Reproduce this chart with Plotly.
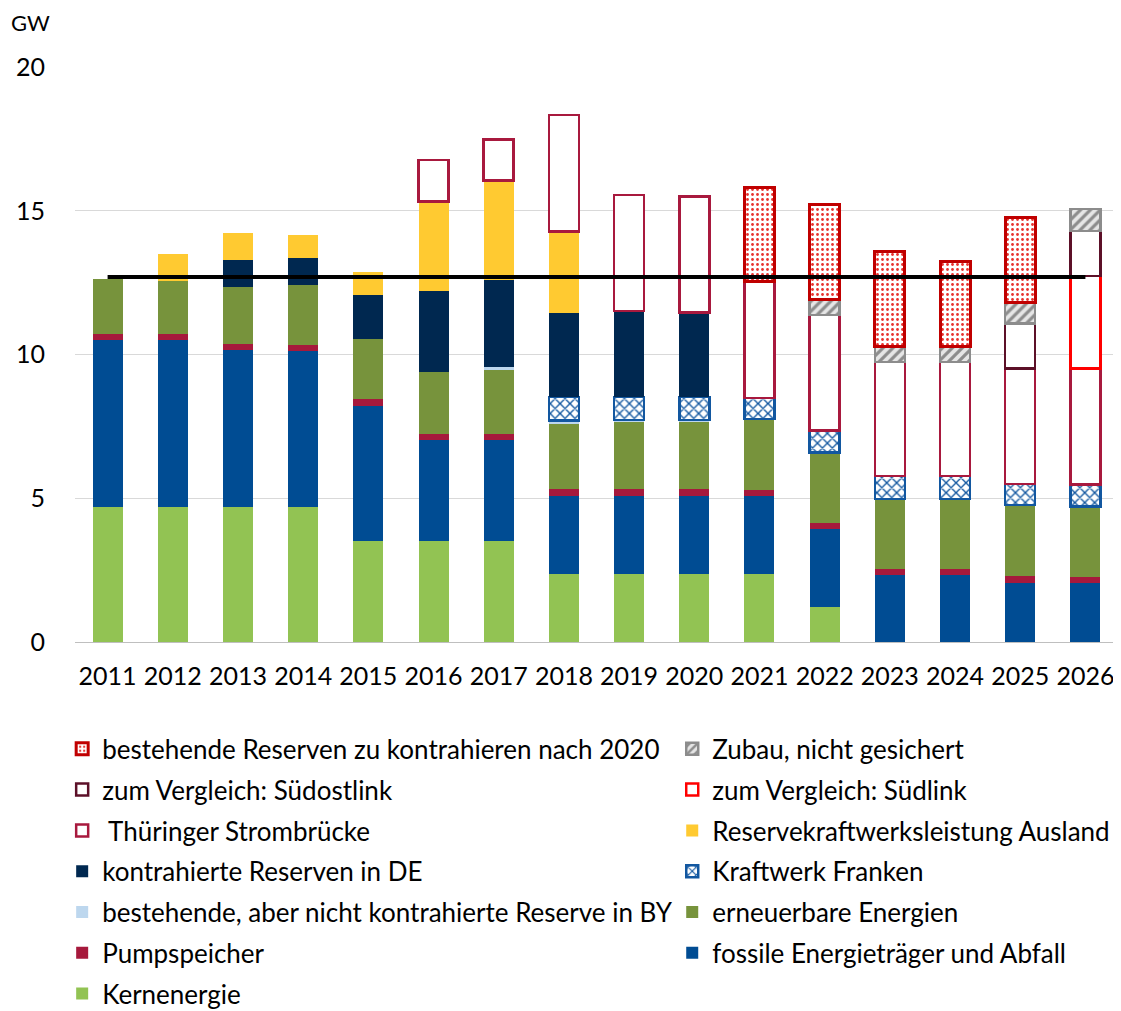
import plotly.graph_objects as go

years = [str(y) for y in range(2011, 2027)]

kern = [4.7, 4.7, 4.7, 4.7, 3.53, 3.53, 3.53, 2.37, 2.37, 2.37, 2.37, 1.22, 0, 0, 0, 0]
fossil = [5.8, 5.8, 5.45, 5.42, 4.69, 3.49, 3.49, 2.7, 2.71, 2.71, 2.72, 2.71, 2.33, 2.33, 2.06, 2.06]
pump = [0.22, 0.22, 0.22, 0.22, 0.23, 0.23, 0.23, 0.24, 0.23, 0.23, 0.21, 0.21, 0.21, 0.21, 0.24, 0.21]
erneuerbar = [1.9, 1.84, 1.99, 2.08, 2.09, 2.15, 2.21, 2.29, 2.35, 2.35, 2.46, 2.45, 2.44, 2.44, 2.47, 2.45]
reserve_by = [0, 0, 0, 0, 0, 0, 0.12, 0.1, 0.06, 0.06, 0, 0, 0, 0, 0, 0]
franken = [0, 0, 0, 0, 0, 0, 0, 0.82, 0.8, 0.8, 0.73, 0.77, 0.8, 0.8, 0.72, 0.75]
kontrahiert_de = [0, 0, 0.93, 0.93, 1.54, 2.8, 3.02, 2.94, 3.0, 2.94, 0, 0, 0, 0, 0, 0]
ausland = [0, 0.94, 0.93, 0.81, 0.8, 3.13, 3.45, 2.82, 0, 0, 0, 0, 0, 0, 0, 0]
thueringer = [0, 0, 0, 0, 0, 1.43, 1.43, 4.05, 4.03, 4.03, 4.04, 4.01, 3.96, 3.96, 4.02, 4.04]
suedlink = [0, 0, 0, 0, 0, 0, 0, 0, 0, 0, 0, 0, 0, 0, 0, 3.22]
suedostlink = [0, 0, 0, 0, 0, 0, 0, 0, 0, 0, 0, 0, 0, 0, 1.57, 1.57]
zubau = [0, 0, 0, 0, 0, 0, 0, 0, 0, 0, 0, 0.55, 0.53, 0.53, 0.72, 0.76]
bestehend_2020 = [0, 0, 0, 0, 0, 0, 0, 0, 0, 0, 3.28, 3.31, 3.33, 2.95, 2.97, 0]

referenz = [12.7] * len(years)

FONT = "Lato"


def nz(vals):
    return [v if v else None for v in vals]


fig = go.Figure()

# (name, values, fill, line colour, line width, pattern, legend, rank)
series = [
    ("Kernenergie", kern, "#92C353", None, 0, None, "legend", 7),
    ("fossile Energieträger und Abfall", fossil, "#004C93", None, 0, None, "legend2", 6),
    ("Pumpspeicher", pump, "#A6193C", None, 0, None, "legend", 6),
    ("erneuerbare Energien", erneuerbar, "#77933C", None, 0, None, "legend2", 5),
    ("bestehende, aber nicht kontrahierte Reserve in BY", reserve_by, "#BDD7EE", None, 0, None, "legend", 5),
    ("Kraftwerk Franken", franken, "#FFFFFF", "#1257A0", 2.5,
     dict(shape="x", fgcolor="#1257A0", bgcolor="#FFFFFF", size=7, solidity=0.35), "legend2", 4),
    ("kontrahierte Reserven in DE", kontrahiert_de, "#002850", None, 0, None, "legend", 4),
    ("Reservekraftwerksleistung Ausland", ausland, "#FFCA31", None, 0, None, "legend2", 3),
    ("\u00a0Thüringer Strombrücke", thueringer, "#FFFFFF", "#A8193E", 2.5, None, "legend", 3),
    ("zum Vergleich: Südlink", suedlink, "#FFFFFF", "#FF0000", 2.5, None, "legend2", 2),
    ("zum Vergleich: Südostlink", suedostlink, "#FFFFFF", "#5C1028", 2.5, None, "legend", 2),
    ("Zubau, nicht gesichert", zubau, "#FFFFFF", "#8C8C8C", 2.5,
     dict(shape="/", fgcolor="#8C8C8C", bgcolor="#E6E6E6", size=7, solidity=0.45), "legend2", 1),
    ("bestehende Reserven zu kontrahieren nach 2020", bestehend_2020, "#FFFFFF", "#C00000", 3,
     dict(shape=".", fgcolor="#E8332F", bgcolor="#FFFFFF", size=5, solidity=0.25), "legend", 1),
]

for i, (name, vals, fill, lc, lw, pat, leg, rank) in enumerate(series):
    marker = dict(color=fill, line=dict(color=lc or fill, width=lw))
    if pat:
        marker["pattern"] = dict(fillmode="replace", **pat)
    fig.add_trace(go.Bar(
        x=years, y=nz(vals), name=name, marker=marker,
        legend=leg, legendrank=rank, legendgroup=f"g{i}",
    ))

fig.add_trace(go.Scatter(
    x=years, y=referenz, mode="lines", line=dict(color="#000000", width=4),
    showlegend=False, hoverinfo="skip",
))

legend_common = dict(
    orientation="v", yanchor="top", xanchor="left",
    font=dict(family=FONT, size=26, color="#000000"),
    bgcolor="rgba(0,0,0,0)", tracegroupgap=4, itemclick=False,
)

# the page body adds an 8 px offset, so the figure is 8 px smaller than the window
fig.update_layout(
    width=1113, height=1003,
    margin=dict(l=67, r=3, t=59, b=369, autoexpand=False),
    barmode="stack", bargap=0.54,
    plot_bgcolor="#FFFFFF", paper_bgcolor="#FFFFFF",
    font=dict(family=FONT, size=24, color="#000000"),
    legend=dict(x=-0.0123, y=-0.145, **legend_common),
    legend2=dict(x=0.5726, y=-0.145, **legend_common),
    xaxis=dict(
        type="category", showgrid=False, showline=True, linecolor="#BFBFBF", linewidth=1,
        tickfont=dict(family=FONT, size=25, color="#000000"), ticks="", ticklabelstandoff=12,
        automargin=False,
    ),
    yaxis=dict(
        range=[0, 20], tickvals=[0, 5, 10, 15, 20], showgrid=True, gridcolor="#D9D9D9",
        gridwidth=1, zeroline=False, showline=False, automargin=False,
        tickfont=dict(family=FONT, size=25, color="#000000"), ticks="", ticklabelstandoff=29,
    ),
    annotations=[dict(
        text="GW", xref="paper", yref="paper", x=-0.0635, y=1.078, xanchor="left", yanchor="middle",
        showarrow=False, font=dict(family=FONT, size=22, color="#000000"),
    )],
)

fig.write_html("out.html")
